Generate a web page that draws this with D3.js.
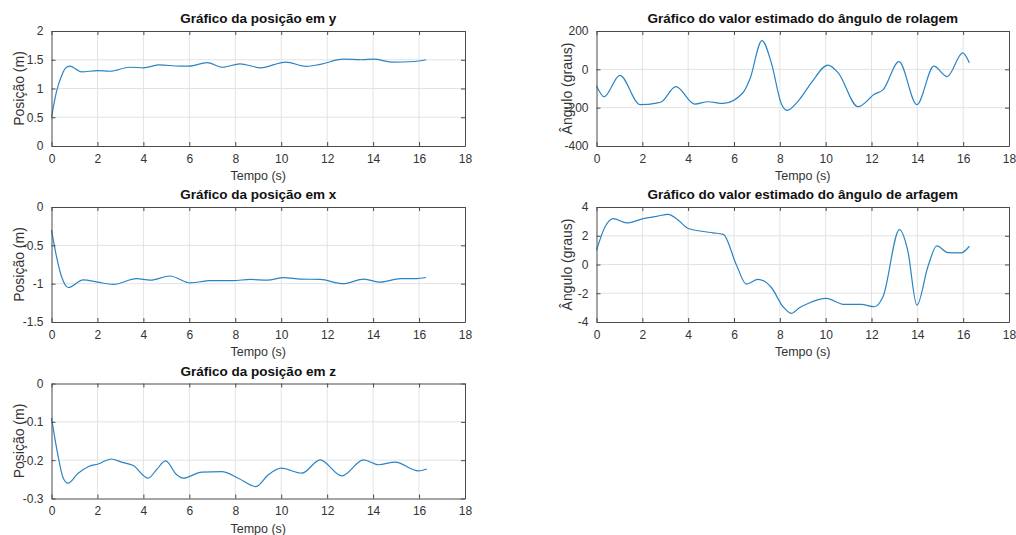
<!DOCTYPE html>
<html lang="pt">
<head>
<meta charset="UTF-8">
<title>Gráficos de posição e ângulos</title>
<script src="https://d3js.org/d3.v7.min.js"></script>
<style>
    body { margin: 0; background: #fff; }
    svg { display: block; font-family: "Liberation Sans", Arial, sans-serif; }
    .grid line { stroke: #e3e3e3; stroke-width: 1; }
    .axis text { fill: #333; font-size: 12px; }
    .axis path, .axis line { stroke: #4a4a4a; }
</style>
</head>
<body>
<script>
// Posição em y
const tPosY = [0, 0.22, 0.44, 0.6, 0.8, 1.31, 2.0, 2.55, 3.4, 4.0, 4.7, 5.6, 6.0, 6.77, 7.45, 8.2, 9.1, 10.2, 11.1, 11.7, 12.7, 13.5, 14.05, 14.8, 15.8, 16.3];
const posY = [0.5, 0.95, 1.22, 1.35, 1.39, 1.29, 1.31, 1.30, 1.37, 1.36, 1.41, 1.39, 1.39, 1.45, 1.37, 1.43, 1.36, 1.46, 1.385, 1.42, 1.51, 1.50, 1.51, 1.46, 1.47, 1.50];

// Posição em x
const tPosX = [0, 0.22, 0.44, 0.73, 1.38, 2.0, 2.7, 3.7, 4.3, 5.15, 6.05, 6.9, 7.9, 8.65, 9.4, 10.1, 10.85, 11.7, 12.7, 13.6, 14.3, 15.2, 15.9, 16.3];
const posX = [-0.30, -0.65, -0.91, -1.05, -0.95, -0.98, -1.01, -0.935, -0.955, -0.90, -0.99, -0.96, -0.96, -0.945, -0.955, -0.92, -0.94, -0.945, -1.0, -0.94, -0.98, -0.935, -0.935, -0.92];

// Posição em z
const tPosZ = [0, 0.29, 0.5, 0.72, 1.16, 1.6, 2.03, 2.61, 3.05, 3.56, 4.21, 4.57, 4.97, 5.45, 5.74, 6.54, 7.41, 8.13, 8.9, 9.44, 10.0, 10.9, 11.69, 12.64, 13.58, 14.23, 14.96, 15.97, 16.34];
const posZ = [-0.09, -0.19, -0.245, -0.260, -0.234, -0.217, -0.210, -0.197, -0.205, -0.214, -0.247, -0.225, -0.202, -0.238, -0.247, -0.231, -0.230, -0.247, -0.269, -0.238, -0.221, -0.234, -0.199, -0.241, -0.199, -0.212, -0.205, -0.228, -0.223];

// Ângulo de rolagem
const tRol = [0, 0.33, 1.02, 1.9, 2.62, 2.84, 3.46, 4.29, 4.87, 5.53, 6.4, 6.69, 7.22, 7.63, 8.07, 8.31, 8.87, 9.38, 10.1, 10.54, 11.41, 12.14, 12.5, 13.2, 13.98, 14.72, 15.3, 15.98, 16.27];
const rolagem = [-86, -143, -31, -184, -176, -169, -90, -181, -169, -178, -121, -52, 150, 34, -181, -214, -155, -69, 22, -17, -195, -129, -107, 40, -184, 17, -38, 86, 34];

// Ângulo de arfagem
const tArf = [0, 0.37, 0.73, 1.32, 2.04, 2.62, 3.13, 3.49, 4.0, 4.51, 5.09, 5.53, 6.11, 6.54, 7.05, 7.63, 8.14, 8.5, 8.87, 9.23, 10.02, 10.82, 11.55, 12.13, 12.5, 13.22, 13.58, 13.98, 14.46, 14.85, 15.33, 15.91, 16.27];
const arfagem = [0.99, 2.61, 3.19, 2.89, 3.19, 3.35, 3.49, 3.19, 2.5, 2.33, 2.2, 2.1, -0.05, -1.37, -1.04, -1.6, -2.94, -3.4, -2.99, -2.71, -2.36, -2.78, -2.78, -2.94, -2.25, 2.43, 0.99, -2.83, -0.16, 1.29, 0.83, 0.81, 1.27];

const xTicks = [0, 2, 4, 6, 8, 10, 12, 14, 16, 18];

const width = 1016, height = 535;
const svg = d3.select("body").append("svg").attr("width", width).attr("height", height);

// left column / right column and the three rows
const cols = [[51.5, 465], [596.5, 1009]];
const rows = [[31, 146], [207, 322], [383.5, 498.5]];
const yLabelOffset = [28, 25];

const panels = [
    { title: "Gráfico da posição em y", t: tPosY, v: posY, dom: [0, 2], ticks: [0, 0.5, 1, 1.5, 2], yLabel: "Posição (m)", col: 0, row: 0 },
    { title: "Gráfico da posição em x", t: tPosX, v: posX, dom: [-1.5, 0], ticks: [-1.5, -1, -0.5, 0], yLabel: "Posição (m)", col: 0, row: 1 },
    { title: "Gráfico da posição em z", t: tPosZ, v: posZ, dom: [-0.3, 0], ticks: [-0.3, -0.2, -0.1, 0], yLabel: "Posição (m)", col: 0, row: 2 },
    { title: "Gráfico do valor estimado do ângulo de rolagem", t: tRol, v: rolagem, dom: [-400, 200], ticks: [-400, -200, 0, 200], yLabel: "Ângulo (graus)", col: 1, row: 0 },
    { title: "Gráfico do valor estimado do ângulo de arfagem", t: tArf, v: arfagem, dom: [-4, 4], ticks: [-4, -2, 0, 2, 4], yLabel: "Ângulo (graus)", col: 1, row: 1 }
];

panels.forEach(p => {
    const [x0, x1] = cols[p.col];
    const [y0, y1] = rows[p.row];
    const x = d3.scaleLinear().domain([0, 18]).range([x0, x1]);
    const y = d3.scaleLinear().domain(p.dom).range([y1, y0]);
    const g = svg.append("g");

    // grid
    const grid = g.append("g").attr("class", "grid");
    grid.selectAll(".gx").data(xTicks.slice(1, -1)).join("line")
        .attr("x1", d => x(d)).attr("x2", d => x(d)).attr("y1", y0).attr("y2", y1);
    grid.selectAll(".gy").data(p.ticks.slice(1, -1)).join("line")
        .attr("y1", d => y(d)).attr("y2", d => y(d)).attr("x1", x0).attr("x2", x1);

    // data line
    const pts = p.t.map((t, i) => [t, p.v[i]]);
    g.append("path")
        .datum(pts)
        .attr("fill", "none")
        .attr("stroke", "#2a84c4")
        .attr("stroke-width", 1.2)
        .attr("d", d3.line().x(d => x(d[0])).y(d => y(d[1])).curve(d3.curveMonotoneX));

    // axes (ticks inside, like matlab)
    const fmt = d => String(d);
    g.append("g").attr("class", "axis").attr("transform", `translate(0,${y1})`)
        .call(d3.axisBottom(x).tickValues(xTicks).tickFormat(fmt).tickSizeInner(-4).tickSizeOuter(0).tickPadding(8));
    g.append("g").attr("class", "axis").attr("transform", `translate(${x0},0)`)
        .call(d3.axisLeft(y).tickValues(p.ticks).tickFormat(fmt).tickSizeInner(-4).tickSizeOuter(0).tickPadding(8));
    g.append("g").attr("class", "axis").attr("transform", `translate(0,${y0})`)
        .call(d3.axisTop(x).tickValues(xTicks).tickFormat("").tickSizeInner(-4).tickSizeOuter(0));
    g.append("g").attr("class", "axis").attr("transform", `translate(${x1},0)`)
        .call(d3.axisRight(y).tickValues(p.ticks).tickFormat("").tickSizeInner(-4).tickSizeOuter(0));

    // title
    g.append("text")
        .attr("x", (x0 + x1) / 2).attr("y", y0 - 8)
        .attr("text-anchor", "middle")
        .attr("font-size", "13.5px").attr("font-weight", "bold").attr("fill", "#111")
        .text(p.title);

    // x label
    g.append("text")
        .attr("x", (x0 + x1) / 2).attr("y", y1 + 34)
        .attr("text-anchor", "middle")
        .attr("font-size", "12.5px").attr("fill", "#333")
        .text("Tempo (s)");

    // y label
    g.append("text")
        .attr("transform", `translate(${x0 - yLabelOffset[p.col]},${(y0 + y1) / 2}) rotate(-90)`)
        .attr("text-anchor", "middle")
        .attr("font-size", "14px").attr("fill", "#333")
        .text(p.yLabel);
});
</script>
</body>
</html>
